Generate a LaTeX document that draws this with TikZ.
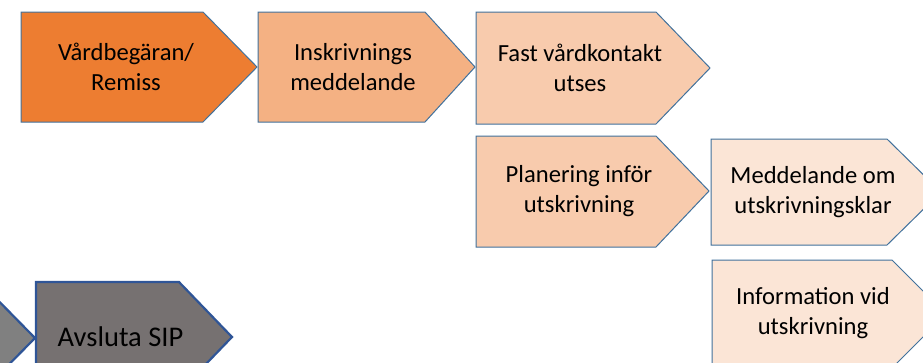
\documentclass[tikz,border=0pt]{standalone}
\usepackage{fontspec}
\setmainfont{Carlito}
\definecolor{bordercol}{HTML}{41719C}
\definecolor{darkborder}{HTML}{2F5597}
\definecolor{cA}{HTML}{ED7D31}
\definecolor{cB}{HTML}{F4B183}
\definecolor{cC}{HTML}{F8CBAD}
\definecolor{cD}{HTML}{FBE5D6}
\definecolor{cE}{HTML}{767171}
\definecolor{cF}{HTML}{808080}
\tikzset{
  stepshape/.style={draw=bordercol, line width=1pt, line join=miter},
  endshape/.style={draw=darkborder, line width=2.2pt, line join=miter},
  steptext/.style={align=center, inner sep=0pt, text=black,
    font=\fontsize{24.6}{30}\selectfont},
  bigtext/.style={align=center, inner sep=0pt, text=black,
    font=\fontsize{28.5}{34}\selectfont}
}
\begin{document}
\begin{tikzpicture}[x=1pt,y=-1pt]
\useasboundingbox (0,0) rectangle (923,362);
\clip (0,0) rectangle (923,362);
% row 1
\draw[stepshape, fill=cA] (21,12) -- (203,12) -- (257,67) -- (203,122) -- (21,122) -- cycle;
\node[steptext] (vard) at (126,67) {Vårdbegäran/\\Remiss};
\draw[stepshape, fill=cB] (258,12) -- (425,12) -- (475,67) -- (425,122) -- (258,122) -- cycle;
\node[steptext] (inskr) at (353,67) {Inskrivnings\\meddelande};
\draw[stepshape, fill=cC] (476,12) -- (656,12) -- (710,68) -- (656,124) -- (476,124) -- cycle;
\node[steptext] (fast) at (580,68) {Fast vårdkontakt\\utses};
% row 2
\draw[stepshape, fill=cC] (476,136) -- (656,136) -- (709,191) -- (656,247) -- (476,247) -- cycle;
\node[steptext] (plan) at (579,191) {Planering inför\\utskrivning};
\draw[stepshape, fill=cD] (711,139) -- (887,139) -- (941,192) -- (887,245) -- (711,245) -- cycle;
\node[steptext] (medd) at (813,192) {Meddelande om\\utskrivningsklar};
% row 3
\draw[stepshape, fill=cD] (712,260) -- (892,260) -- (946,314) -- (892,368) -- (712,368) -- cycle;
\node[steptext] (info) at (813,313) {Information vid\\utskrivning};
\draw[endshape, fill=cF] (-80,283) -- (-19,283) -- (35,338) -- (-19,393) -- (-80,393) -- cycle;
\coordinate (prev) at (10,338);
\draw[endshape, fill=cE] (36,282) -- (179,282) -- (232,337) -- (179,392) -- (36,392) -- cycle;
\node[bigtext] (avsl) at (120.5,337) {Avsluta SIP};
\end{tikzpicture}
\end{document}
